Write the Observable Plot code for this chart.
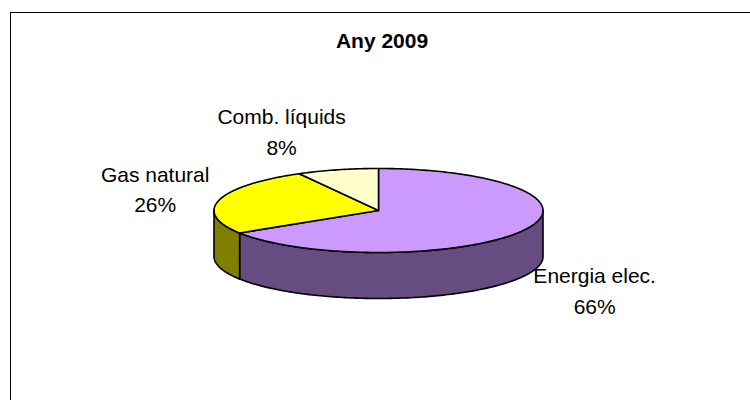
<!DOCTYPE html>
<html>
<head>
<meta charset="utf-8">
<script src="https://cdn.jsdelivr.net/npm/d3@7"></script>
<script src="https://cdn.jsdelivr.net/npm/@observablehq/plot@0.6"></script>
<style>
  html, body { margin: 0; padding: 0; background: #fff; overflow: hidden; }
  #wrap { position: relative; width: 750px; height: 400px; overflow: hidden; }
  #frame { position: absolute; left: 10px; top: 12px; width: 800px; height: 500px; border: 1px solid #000; box-sizing: border-box; pointer-events: none; }
  #chart { position: absolute; left: 0; top: 0; }
</style>
</head>
<body>
<div id="wrap"><div id="chart"></div><div id="frame"></div></div>
<script>
// ---- data ----
const title = "Any 2009";
const categories = ["Energia elec.", "Gas natural", "Comb. líquids"];
const values = [66, 26, 8];
const percentLabels = ["66%", "26%", "8%"];

// ---- style / layout ----
const topColors  = ["#CC99FF", "#FFFF00", "#FFFFCC"];
const sideColors = ["#664C80", "#808000", "#808066"];
const geom = {cx: 378, cy: 210, rx: 164.5, ry: 42, depth: 46};
// label offsets from rim point at slice mid-angle
const labelOffsets = [[72, 58], [-64, -13], [-56, -40]];

const deg = Math.PI / 180;
const pt = (theta, drop = 0) => ({
  x: geom.cx + geom.rx * Math.sin(theta),
  y: geom.cy - geom.ry * Math.cos(theta) + drop
});
function arc(a, b, drop = 0) {
  const n = Math.max(2, Math.ceil(Math.abs(b - a) / deg));
  const out = [];
  for (let i = 0; i <= n; i++) out.push(pt(a + (b - a) * i / n, drop));
  return out;
}

const pie = d3.pie().sort(null).value(d => d)(values);

const marks = [];
// side faces (front half only: angles between 90 and 270 degrees)
pie.forEach((s, i) => {
  const a = Math.max(s.startAngle, Math.PI / 2);
  const b = Math.min(s.endAngle, 3 * Math.PI / 2);
  if (b <= a) return;
  const poly = [...arc(a, b), ...arc(b, a, geom.depth)];
  poly.push(poly[0]);
  marks.push(Plot.line(poly, {x: "x", y: "y", fill: sideColors[i], stroke: "#000", strokeWidth: 1.6, strokeLinejoin: "round"}));
});
// top faces
pie.forEach((s, i) => {
  const c = {x: geom.cx, y: geom.cy};
  const poly = [c, ...arc(s.startAngle, s.endAngle), c];
  marks.push(Plot.line(poly, {x: "x", y: "y", fill: topColors[i], stroke: "#000", strokeWidth: 1.6, strokeLinejoin: "round"}));
});
// labels
const labels = pie.map((s, i) => {
  const p = pt((s.startAngle + s.endAngle) / 2);
  return {x: p.x + labelOffsets[i][0], y: p.y + labelOffsets[i][1], text: categories[i] + "\n" + percentLabels[i]};
});
marks.push(Plot.text(labels, {x: "x", y: "y", text: "text", fontSize: 21, lineHeight: 1.47, fill: "#000", fontFamily: "Liberation Sans, Arial, sans-serif"}));
// title
marks.push(Plot.text([title], {x: () => 381.5, y: () => 41, text: d => d, fontSize: 21, fontWeight: "bold", fill: "#000", fontFamily: "Liberation Sans, Arial, sans-serif"}));

const chart = Plot.plot({
  width: 750,
  height: 400,
  margin: 0,
  x: {domain: [0, 750], range: [0, 750], axis: null},
  y: {domain: [0, 400], range: [0, 400], axis: null},
  style: {background: "transparent", fontFamily: "Liberation Sans, Arial, sans-serif"},
  marks
});
document.getElementById("chart").appendChild(chart);
</script>
</body>
</html>
